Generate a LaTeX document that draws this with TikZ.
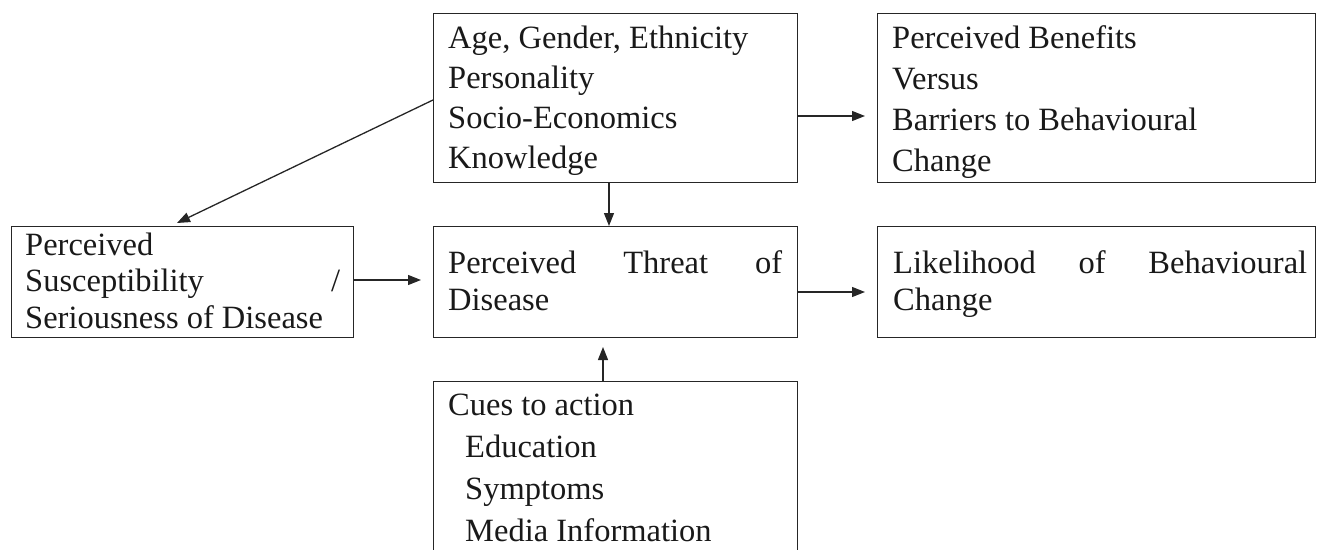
\documentclass[tikz,border=0pt]{standalone}
\usepackage{fontspec}
\setmainfont{Liberation Serif}
\usetikzlibrary{arrows.meta}
\begin{document}
\begin{tikzpicture}[x=1pt,y=-1pt,
  box/.style={draw=black!85, line width=1.4pt, inner sep=0pt, anchor=north west},
  lbl/.style={anchor=base west, inner sep=0pt, font=\fontsize{32.5}{40}\selectfont, text=black!90},
  arr/.style={draw=black!85, line width=1.3pt, -{Triangle[length=13pt,width=10pt]}}]
\useasboundingbox (0,0) rectangle (1322,549);
\clip (0,0) rectangle (1322,549);
% boxes
\node[box, minimum width=364pt, minimum height=169pt] (demo) at (433,13) {};
\node[box, minimum width=438pt, minimum height=169pt] (benef) at (877,13) {};
\node[box, minimum width=342pt, minimum height=111pt] (susc) at (11,226) {};
\node[box, minimum width=364pt, minimum height=111pt] (threat) at (433,226) {};
\node[box, minimum width=438pt, minimum height=111pt] (likely) at (877,226) {};
\node[box, minimum width=364pt, minimum height=200pt] (cues) at (433,381) {};
% texts
\node[lbl] (t1) at (448,48) {Age, Gender, Ethnicity};
\node[lbl] (t2) at (448,88) {Personality};
\node[lbl] (t3) at (448,128) {Socio-Economics};
\node[lbl] (t4) at (448,168) {Knowledge};
\node[lbl] (b1) at (892,48) {Perceived Benefits};
\node[lbl] (b2) at (892,89) {Versus};
\node[lbl] (b3) at (892,130) {Barriers to Behavioural};
\node[lbl] (b4) at (892,171) {Change};
\node[lbl] (s1) at (25,255) {Perceived};
\node[lbl] (s2) at (25,291.5) {\hbox to 315pt{Susceptibility\hfill/}};
\node[lbl] (s3) at (25,328) {Seriousness of Disease};
\node[lbl] (p1) at (448,273) {\makebox[334pt][s]{Perceived Threat of}};
\node[lbl] (p2) at (448,310) {Disease};
\node[lbl] (l1) at (893,273) {\makebox[414pt][s]{Likelihood of Behavioural}};
\node[lbl] (l2) at (893,310) {Change};
\node[lbl] (c1) at (448,415) {Cues to action};
\node[lbl] (c2) at (465,457) {Education};
\node[lbl] (c3) at (465,499) {Symptoms};
\node[lbl] (c4) at (465,541) {Media Information};
% connectors
\coordinate (e1) at (865,116);
\draw[arr] (demo.east |- e1) -- (e1);
\coordinate (e2) at (865,292);
\draw[arr] (threat.east |- e2) -- (e2);
\coordinate (e3) at (421,280);
\draw[arr] (susc.east |- e3) -- (e3);
\coordinate (e4) at (609,182);
\draw[arr] (e4) -- (threat.north -| e4);
\coordinate (e5) at (603,347);
\draw[arr] (cues.north -| e5) -- (e5);
\coordinate (s0) at (433,100);
\coordinate (e6) at (177,223);
\draw[arr] (s0) -- (e6);
\end{tikzpicture}
\end{document}
